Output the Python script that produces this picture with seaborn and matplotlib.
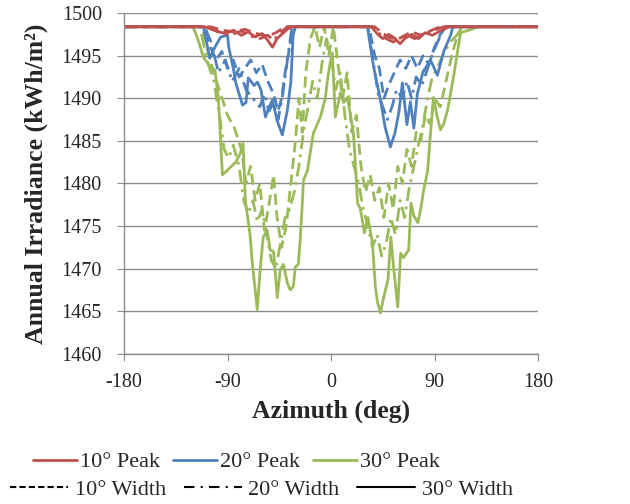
import numpy as np
import pandas as pd
import matplotlib
matplotlib.use("Agg")
import matplotlib.pyplot as plt
from matplotlib.lines import Line2D
import seaborn as sns

# ---- data (azimuth in deg, irradiance in kWh/m2) ----
base = 1498.4

# 10 deg peak
az_p10_w10 = [-180, -105, -95, -85, -75, -65, -55, -48, -40, 38, 45, 52, 58, 63, 70, 78, 86, 95, 180]
irr_p10_w10 = [base, base, 1498.0, 1497.8, 1498.1, 1497.6, 1497.3, 1497.7, base,
               base, 1497.6, 1497.1, 1496.9, 1497.3, 1497.8, 1497.4, 1497.9, base, base]
az_p10_w20 = [-180, -108, -98, -88, -78, -70, -62, -55, -50, -45, -38,
              36, 42, 48, 54, 60, 66, 73, 80, 88, 98, 180]
irr_p10_w20 = [base, base, 1497.8, 1497.4, 1497.9, 1497.3, 1497.0, 1497.4, 1496.8, 1497.6, base,
               base, 1497.6, 1497.0, 1496.6, 1497.0, 1497.4, 1497.0, 1497.6, 1497.9, base, base]
az_p10_w30 = [-180, -110, -100, -92, -85, -78, -72, -66, -60, -55, -51, -47, -43, -38, -34,
              35, 40, 45, 50, 55, 60, 64, 70, 76, 82, 88, 95, 103, 180]
irr_p10_w30 = [base, base, 1497.9, 1497.6, 1498.0, 1497.4, 1497.8, 1497.2, 1497.6, 1496.8, 1496.0,
               1497.0, 1497.5, 1498.1, base,
               base, 1497.6, 1497.0, 1497.5, 1497.1, 1496.4, 1497.0, 1497.5, 1497.0, 1497.7,
               1497.4, 1497.9, base, base]

# 20 deg peak
az_p20_w10 = [-180, -112, -105, -100, -95, -90, -85, -80, -75, -70, -65, -60, -55, -50, -46, -43,
              -40, -36, -33, 33, 38, 42, 46, 50, 55, 60, 65, 70, 75, 80, 85, 90, 95, 100, 180]
irr_p20_w10 = [base, base, 1496.0, 1494.5, 1495.5, 1493.5, 1494.5, 1492.5, 1493.5, 1494.5, 1493.0,
               1494.0, 1492.0, 1490.5, 1488.5, 1490.0, 1493.0, 1496.0, base,
               base, 1495.0, 1493.5, 1490.0, 1491.5, 1493.0, 1494.5, 1493.5, 1495.0, 1493.5,
               1495.0, 1494.0, 1496.0, 1497.5, base, base]
az_p20_w20 = [-180, -110, -104, -98, -92, -86, -80, -74, -68, -62, -58, -54, -50, -46, -42, -38, -34,
              32, 37, 41, 45, 49, 53, 57, 62, 66, 70, 74, 79, 84, 89, 94, 99, 180]
irr_p20_w20 = [base, base, 1496.5, 1493.0, 1494.5, 1492.0, 1493.5, 1491.0, 1490.0, 1489.0, 1490.5,
               1488.5, 1489.5, 1487.5, 1490.5, 1494.5, base,
               base, 1494.0, 1490.5, 1489.0, 1487.5, 1489.0, 1491.0, 1490.0, 1492.0, 1490.0,
               1492.5, 1491.5, 1493.5, 1495.5, 1497.0, base, base]
az_p20_w30 = [-180, -111, -105.5, -101, -96, -90, -89, -85, -83, -80, -77, -74, -72, -67, -64, -61,
              -57, -54, -51, -47, -42.4, -38, -35, -33, -31,
              31.6, 37, 43, 47, 51.6, 55.5, 59, 62, 66, 69, 72, 75, 80, 86.5, 92.5, 98, 104, 106, 180]
irr_p20_w30 = [base, base, 1494.7, 1496.0, 1497.2, 1497.4, 1496.0, 1493.5, 1491.9, 1490.5, 1489.2,
               1489.5, 1492.4, 1491.5, 1491.9, 1491.0, 1487.8, 1488.9, 1489.8, 1487.4, 1485.7,
               1488.6, 1491.9, 1497.4, base,
               base, 1493.7, 1489.8, 1486.6, 1484.3, 1485.9, 1488.4, 1491.8, 1486.9, 1489.6,
               1486.5, 1490.5, 1493.1, 1494.5, 1492.7, 1495.5, 1497.4, base, base]

# 30 deg peak
az_p30_w10 = [-180, -112, -107, -101, -96, -90, -84, -78, -74, -70, -66, -62, -58, -54, -50, -47,
              -43, -39, -35, -31, -28, -25, -22, -18, -14, -10, -6, -2, 2, 6, 10, 14, 18, 22, 26,
              30, 34, 38, 42, 46, 50, 54, 58, 62, 66, 70, 74, 78, 82, 86, 90, 95, 100, 105, 110,
              114, 180]
irr_p30_w10 = [base, base, 1495.5, 1492.5, 1490.5, 1488.0, 1486.5, 1484.0, 1480.0, 1482.0, 1478.0,
               1480.0, 1474.5, 1477.5, 1481.0, 1476.0, 1472.5, 1475.0, 1480.0, 1485.0, 1490.0,
               1486.0, 1493.0, 1497.0, base, 1496.0, base, 1495.0, base, 1494.0, 1490.0, 1493.0,
               1486.0, 1488.0, 1482.0, 1479.0, 1481.0, 1478.0, 1479.5, 1476.0, 1480.0, 1477.0,
               1482.0, 1480.0, 1484.0, 1482.0, 1486.0, 1485.0, 1488.0, 1487.0, 1490.0, 1489.0,
               1492.0, 1495.0, 1497.5, base, base]
az_p30_w20 = [-180, -114, -108, -102, -97, -93, -89, -85, -80, -76, -72, -68, -64, -60, -56, -52,
              -48, -44, -40, -36, -32, -28, -24, -20, -16, -12, -8, -4, 0, 4, 8, 12, 16, 20, 24,
              28, 32, 36, 40, 44, 48, 52, 56, 60, 64, 68, 72, 76, 80, 84, 88, 92, 97, 103, 110,
              116, 180]
irr_p30_w20 = [base, base, 1494.5, 1492.0, 1488.0, 1484.0, 1483.0, 1484.5, 1482.0, 1478.0, 1476.5,
               1478.0, 1475.5, 1477.0, 1474.0, 1471.0, 1470.0, 1473.0, 1476.0, 1477.0, 1479.0,
               1482.0, 1486.0, 1489.0, 1492.0, 1490.0, 1494.0, 1497.0, 1495.0, 1491.0, 1493.0,
               1488.0, 1484.0, 1482.0, 1480.0, 1477.0, 1475.0, 1472.5, 1474.0, 1471.5, 1473.0,
               1476.0, 1474.0, 1478.0, 1476.0, 1479.5, 1482.0, 1484.5, 1487.0, 1490.0, 1492.5,
               1493.5, 1495.0, 1496.5, 1497.5, base, base]
az_p30_w30 = [-180, -120, -116, -111, -105, -101, -98, -94.5, -90.5, -83, -79, -76.5, -74.5, -70.5,
              -68.5, -64.2, -61.6, -59, -55.5, -53, -50, -46.8, -44.2, -41.5, -38, -35.5, -32.8,
              -31.1, -28.5, -26.7, -25, -24, -20.6, -15.4, -9.3, -5, -3.2, -1, 1.1, 3.7, 8, 11,
              14, 17, 19.4, 21.5, 23, 25.5, 29, 32, 36, 38.5, 40.5, 43, 45.5, 49.5, 52, 54.5, 58,
              60.5, 63, 67.5, 69.5, 72, 75.5, 78, 80.5, 84, 86.5, 89.1, 92, 95.2, 98, 101.3, 106.5,
              112.6, 120, 128.3, 180]
irr_p30_w30 = [base, base, 1497.0, 1494.8, 1493.7, 1493.3, 1490.0, 1481.0, 1481.5, 1482.5, 1483.5,
               1484.7, 1478.0, 1474.0, 1470.7, 1465.2, 1470.0, 1473.7, 1474.5, 1472.2, 1472.0,
               1466.6, 1469.9, 1470.5, 1468.3, 1467.5, 1467.9, 1470.2, 1470.5, 1473.7, 1477.7,
               1480.4, 1481.5, 1485.9, 1487.8, 1490.0, 1492.1, 1494.0, 1495.3, 1487.8, 1490.6,
               1489.5, 1490.1, 1488.0, 1485.9, 1481.6, 1477.7, 1477.0, 1474.2, 1476.0, 1473.0,
               1467.9, 1466.0, 1464.8, 1466.5, 1468.7, 1473.7, 1470.0, 1465.5, 1471.8, 1471.3,
               1472.2, 1477.7, 1476.2, 1475.4, 1477.0, 1479.2, 1481.5, 1485.9, 1490.1, 1488.0,
               1486.3, 1487.0, 1488.6, 1492.5, 1497.7, 1498.0, base, base]

peaks = ["10° Peak", "20° Peak", "30° Peak"]
widths = ["10° Width", "20° Width", "30° Width"]
series = {
    ("10° Peak", "10° Width"): (az_p10_w10, irr_p10_w10),
    ("10° Peak", "20° Width"): (az_p10_w20, irr_p10_w20),
    ("10° Peak", "30° Width"): (az_p10_w30, irr_p10_w30),
    ("20° Peak", "10° Width"): (az_p20_w10, irr_p20_w10),
    ("20° Peak", "20° Width"): (az_p20_w20, irr_p20_w20),
    ("20° Peak", "30° Width"): (az_p20_w30, irr_p20_w30),
    ("30° Peak", "10° Width"): (az_p30_w10, irr_p30_w10),
    ("30° Peak", "20° Width"): (az_p30_w20, irr_p30_w20),
    ("30° Peak", "30° Width"): (az_p30_w30, irr_p30_w30),
}

rows = []
for (pk, wd), (az, irr) in series.items():
    for a, v in zip(az, irr):
        rows.append({"az": a, "irr": v, "peak": pk, "width": wd})
df = pd.DataFrame(rows)

colors = {"10° Peak": "#C0504D", "20° Peak": "#4F81BD", "30° Peak": "#9BBB59"}
dashes = {"10° Width": (4, 2), "20° Width": (5, 2, 1, 2), "30° Width": ""}

sns.set_style("white")
plt.rcParams["font.family"] = ["Liberation Serif", "DejaVu Serif"]
plt.rcParams["axes.unicode_minus"] = False

fig = plt.figure(figsize=(6.3, 5.04), dpi=100)
ax = fig.add_axes([0.197, 0.298, 0.657, 0.676])

sns.lineplot(data=df, x="az", y="irr", hue="peak", style="width",
             hue_order=peaks[::-1], style_order=widths,
             palette=colors, dashes=dashes, estimator=None, sort=True,
             linewidth=2, legend=False, ax=ax)

ax.set_xlim(-180, 180)
ax.set_ylim(1460, 1500)
ax.set_xticks([-180, -90, 0, 90, 180])
ax.set_yticks(np.arange(1460, 1501, 5))
ax.yaxis.grid(True, color="#8c8c8c", linewidth=1)
ax.xaxis.grid(False)
for s in ["top", "right"]:
    ax.spines[s].set_visible(False)
for s in ["left", "bottom"]:
    ax.spines[s].set_color("#8c8c8c")
    ax.spines[s].set_linewidth(1)
ax.tick_params(axis="y", direction="out", length=5, color="#8c8c8c", pad=11, labelsize=14.5, left=True)
ax.tick_params(axis="x", direction="out", length=5, color="#8c8c8c", pad=9, labelsize=14.5, bottom=True)

ax.set_xlabel("Azimuth (deg)", fontsize=18.5, fontweight="bold", labelpad=5)
ax.set_ylabel("Annual Irradiance (kWh/m²)", fontsize=18.5, fontweight="bold", labelpad=10)

# legend, Excel style: two independent rows
h1 = [Line2D([], [], color=colors[p], lw=2) for p in peaks]
leg1 = fig.legend(h1, peaks, loc="center", bbox_to_anchor=(0.375, 0.083), ncol=3, frameon=False,
                  fontsize=16, handlelength=2.0, handletextpad=0.1, columnspacing=0.6)
h2 = [Line2D([], [], color="black", lw=1.5, dashes=(3, 1.5)),
      Line2D([], [], color="black", lw=1.5, dashes=(5, 3, 1, 3)),
      Line2D([], [], color="black", lw=1.5)]
leg2 = fig.legend(h2, widths, loc="center", bbox_to_anchor=(0.415, 0.028), ncol=3, frameon=False,
                  fontsize=16, handlelength=2.6, handletextpad=0.3, columnspacing=0.8)

fig.savefig("out.png", dpi=100)
